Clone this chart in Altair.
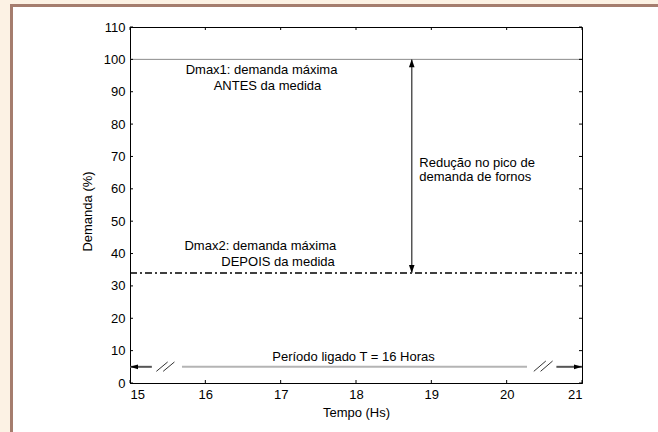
import altair as alt
import pandas as pd

# ---- data ----
x_ticks = [15, 16, 17, 18, 19, 20, 21]
y_ticks = [0, 10, 20, 30, 40, 50, 60, 70, 80, 90, 100, 110]
x_domain = [15, 21]
y_domain = [0, 110]

dmax1 = 100          # demanda máxima antes
dmax2 = 34           # demanda máxima depois
arrow_x = 18.74      # position of the vertical double arrow

period_y = 5
seg_start = [15.0, 15.69, 20.66]
seg_end = [15.29, 20.27, 21.0]
seg_kind = ["arrow", "line", "arrow"]

slash_x1 = [15.35, 15.44, 20.36, 20.45]
slash_x2 = [15.50, 15.59, 20.52, 20.61]
slash_y1 = [3.6, 3.6, 3.6, 3.6]
slash_y2 = [6.5, 6.5, 6.8, 6.8]

head_x = [18.74, 18.74, 15.0, 21.0]
head_y = [100, 34, 5, 5]
head_dir = ["up", "down", "left", "right"]

label_text = ["Dmax1: demanda máxima", "ANTES da medida",
              "Dmax2: demanda máxima", "DEPOIS da medida",
              "Redução no pico de", "demanda de fornos",
              "Período ligado T = 16 Horas"]
label_x = [16.746, 16.825, 16.73, 16.965, 18.84, 18.84, 17.967]
label_y = [96.7, 91.8, 42.2, 37.4, 67.9, 63.6, 8.1]
label_align = ["center", "center", "center", "center", "left", "left", "center"]

# ---- styles ----
W, H = 452, 356
FONT = "Liberation Sans"
paths = {
    "up": "M0,0L-0.7,2L0.7,2Z",
    "down": "M0,0L-0.7,-2L0.7,-2Z",
    "left": "M0,0L2,-0.6L2,0.6Z",
    "right": "M0,0L-2,-0.6L-2,0.6Z",
}
seg_colors = {"arrow": "#555555", "line": "#b4b4b4"}

xs = alt.Scale(domain=x_domain, nice=False, zero=False)
ys = alt.Scale(domain=y_domain, nice=False, zero=False)
x_axis = alt.Axis(values=x_ticks, title="Tempo (Hs)", titleY=29, titleBaseline="middle",
                  labelPadding=5)
y_axis = alt.Axis(values=y_ticks, title="Demanda (%)", titleX=-43, titleY=184,
                  titleBaseline="middle", labelPadding=5)


def X(f):
    return alt.X(f, type="quantitative", scale=xs, axis=x_axis)


def Y(f):
    return alt.Y(f, type="quantitative", scale=ys, axis=y_axis)


one = pd.DataFrame({"k": [0]})

# frame decoration (outside the plot area)
cream = "#FCF2E4"
brown = "#A57D6E"
frame = [
    alt.Chart(one).mark_rect(color=cream).encode(x=alt.value(-130), x2=alt.value(-120), y=alt.value(-27), y2=alt.value(405)),
    alt.Chart(one).mark_rect(color=cream).encode(x=alt.value(-130), x2=alt.value(528), y=alt.value(-27), y2=alt.value(-23)),
    alt.Chart(one).mark_rect(color=brown).encode(x=alt.value(-120), x2=alt.value(-117), y=alt.value(-23), y2=alt.value(405)),
    alt.Chart(one).mark_rect(color=brown).encode(x=alt.value(-120), x2=alt.value(528), y=alt.value(-23), y2=alt.value(-20)),
]

hl = pd.DataFrame({"x": [x_domain[0]], "x2": [x_domain[1]], "y1": [dmax1], "y2": [dmax2]})
line100 = alt.Chart(hl).mark_rule(color="#8c8c8c", strokeWidth=1).encode(x=X("x"), x2="x2", y=Y("y1"))
line34 = alt.Chart(hl).mark_rule(color="black", strokeWidth=1.6, strokeDash=[7, 3, 2, 3]).encode(
    x=X("x"), x2="x2", y=Y("y2"))

va = pd.DataFrame({"x": [arrow_x], "y": [dmax2], "y2": [dmax1]})
shaft = alt.Chart(va).mark_rule(color="#555555", strokeWidth=1.5).encode(x=X("x"), y=Y("y"), y2="y2")

seg = pd.DataFrame({"x": seg_start, "x2": seg_end, "y": [period_y] * len(seg_start),
                    "c": [seg_colors[k] for k in seg_kind]})
segs = alt.Chart(seg).mark_rule(strokeWidth=2).encode(
    x=X("x"), x2="x2", y=Y("y"), color=alt.Color("c:N", scale=None))

sl = pd.DataFrame({"x": slash_x1, "x2": slash_x2, "y": slash_y1, "y2": slash_y2})
slashes = alt.Chart(sl).mark_rule(color="#333333", strokeWidth=1).encode(
    x=X("x"), x2="x2", y=Y("y"), y2="y2")

hd = pd.DataFrame({"x": head_x, "y": head_y, "p": [paths[d] for d in head_dir]})
heads = alt.Chart(hd).mark_point(filled=True, color="black", opacity=1, size=64, strokeWidth=0).encode(
    x=X("x"), y=Y("y"), shape=alt.Shape("p:N", scale=None))

lab = pd.DataFrame({"x": label_x, "y": label_y, "t": label_text, "a": label_align})
texts_c = alt.Chart(lab).transform_filter(alt.datum.a == "center").mark_text(
    font=FONT, fontSize=13, color="black", align="center", baseline="middle").encode(
    x=X("x"), y=Y("y"), text="t:N")
texts_l = alt.Chart(lab).transform_filter(alt.datum.a == "left").mark_text(
    font=FONT, fontSize=13, color="black", align="left", baseline="middle").encode(
    x=X("x"), y=Y("y"), text="t:N")

xt = pd.DataFrame({"x": x_ticks})
yt = pd.DataFrame({"y": y_ticks})
ticks = [
    alt.Chart(xt).mark_rule(color="black").encode(x=X("x"), y=alt.value(H), y2=alt.value(H - 3)),
    alt.Chart(xt).mark_rule(color="black").encode(x=X("x"), y=alt.value(0), y2=alt.value(3)),
    alt.Chart(yt).mark_rule(color="black").encode(y=Y("y"), x=alt.value(0), x2=alt.value(3)),
    alt.Chart(yt).mark_rule(color="black").encode(y=Y("y"), x=alt.value(W), x2=alt.value(W - 3)),
]

chart = alt.layer(
    *frame, line100, line34, shaft, segs, slashes, heads, texts_c, texts_l, *ticks
).properties(
    width=W, height=H,
    autosize=alt.AutoSizeParams(type="none"),
    padding={"left": 130, "top": 27, "right": 76, "bottom": 49},
    background="white",
).configure_view(
    stroke="black", strokeWidth=1, fill="white"
).configure_axis(
    grid=False, ticks=False, tickSize=0, domainColor="black", domainWidth=1,
    labelColor="black", labelFont=FONT, labelFontSize=13,
    titleColor="black", titleFont=FONT, titleFontSize=13, titleFontWeight="normal",
)

chart.save("out.html", embed_options={"renderer": "svg", "actions": False})
